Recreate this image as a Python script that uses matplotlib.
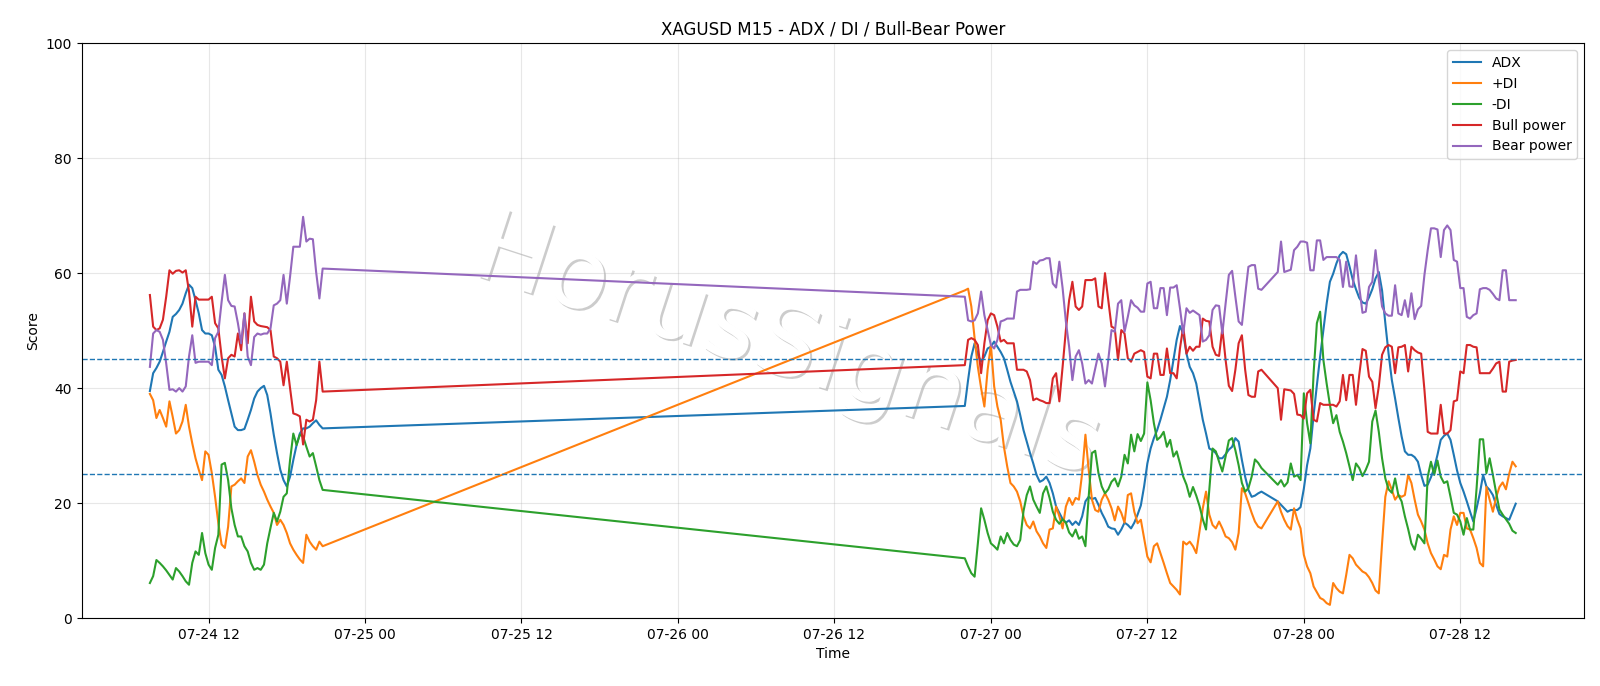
import pandas as pd
import matplotlib
matplotlib.use('Agg')
import matplotlib.pyplot as plt
import matplotlib.dates as mdates
import matplotlib.patheffects as pe

# three stretches of M15 bars (weekend gap + daily break)
t1 = pd.date_range('2025-07-24 07:30', periods=54, freq='15min')
t2 = pd.date_range('2025-07-26 22:00', periods=92, freq='15min')
t3 = pd.date_range('2025-07-27 22:00', periods=74, freq='15min')
times = t1.append(t2).append(t3)

adx = [
    39.5, 42.6, 43.5, 44.6, 46.3, 48.1, 49.8, 52.4, 52.9, 53.6, 54.7, 56.5, 58.0, 57.4, 55.3, 53.0, 50.1, 49.5,
    49.5, 49.2, 47.2, 43.2, 42.3, 40.3, 37.9, 35.6, 33.3, 32.7, 32.7, 32.9, 34.5, 36.2, 38.2, 39.4, 40.0, 40.4,
    38.8, 35.6, 31.9, 28.7, 25.8, 24.0, 22.9, 24.6, 27.5, 30.1, 32.1, 33.0, 33.0, 33.3, 33.9, 34.4, 33.6, 33.0,
    36.9, 41.4, 45.5, 47.8, 45.8, 44.6, 45.5, 46.9, 47.2, 48.1, 47.2, 46.3, 45.2, 43.2, 41.1, 39.4, 37.7, 35.3,
    32.7, 30.7, 28.7, 26.9, 24.9, 23.7, 24.0, 24.6, 23.5, 21.7,
    19.4, 18.3, 17.2, 16.6, 17.0, 16.2, 16.8, 16.2, 17.7, 20.3, 21.1, 20.7, 20.9, 19.7, 18.3, 17.2, 15.9, 15.6,
    15.5, 14.5, 15.4, 16.6, 16.2, 15.6, 16.6, 18.0, 19.6,
    22.9, 26.9, 29.5, 31.3, 32.7, 34.5, 36.5, 38.5, 41.4, 44.9, 48.4, 50.8, 49.5, 46.0, 43.7, 42.6, 40.8, 37.7,
    34.5, 32.1, 29.5, 29.2, 28.7, 27.8, 27.8, 28.5, 29.3, 29.8,
    31.3, 30.7, 27.5, 24.6, 22.3, 21.1, 21.3, 21.7, 22.0,
    20.3, 19.7, 19.1, 18.5, 18.8, 18.8, 18.8, 19.3, 22.5, 26.6, 29.5, 35.3, 40.5, 45.5,
    50.1, 54.7, 58.5, 59.9, 61.7, 63.1, 63.7, 63.3, 61.2, 58.9, 57.2, 55.7, 54.9, 54.7, 55.8, 57.2, 59.1, 60.2,
    57.0, 51.3, 46.0, 41.4, 38.2, 34.8, 31.6, 29.0, 28.4, 28.4,
    28.0, 27.2, 24.9, 23.0, 23.2, 24.5, 26.1, 28.4, 31.0, 31.7, 32.1, 31.0, 28.4, 25.7, 23.5, 22.0, 20.3, 18.5,
    16.8, 19.1, 21.7, 24.9, 22.9, 22.3, 21.4, 19.7, 18.1, 17.7, 17.4, 17.1, 18.5, 19.9,
]

plus_di = [
    39.0, 37.9, 34.8, 36.2, 34.8, 33.3, 37.7, 35.0, 32.1, 32.7, 34.2, 37.1, 33.3, 30.4, 27.8, 25.8, 24.0, 29.0,
    28.4, 25.2, 21.1, 16.5, 12.8, 12.2, 15.9, 22.9, 23.2, 23.8, 24.3, 23.5, 28.1, 29.2, 27.2, 24.9, 23.2, 22.0,
    20.6, 19.4, 18.3, 16.2, 17.1, 16.2, 14.8, 13.0, 11.9, 11.0, 10.2, 9.6, 14.5, 13.3, 12.5, 11.9, 13.3, 12.5,
    57.0, 57.3, 54.2, 48.7, 43.7, 40.0, 36.8, 43.2, 47.5, 40.3, 36.8, 34.5, 29.8, 26.4, 23.5, 22.9, 22.0, 20.3,
    17.7, 16.2, 15.6, 16.8, 15.1, 14.2, 13.0, 12.2, 15.4, 15.6,
    19.4, 17.7, 15.6, 19.4, 20.9, 19.7, 20.9, 20.6, 25.2, 31.9, 25.8, 20.6, 18.8, 18.5, 20.6, 21.7, 20.6, 19.1,
    17.0, 19.4, 18.3, 16.6, 21.4, 21.7, 18.5, 16.5, 17.1,
    13.9, 10.7, 9.7, 12.5, 13.0, 11.3, 9.6, 7.8, 6.1, 5.5, 4.9, 4.1, 13.3, 12.8, 13.3, 12.5, 11.3, 15.1,
    19.1, 22.0, 18.0, 16.2, 15.6, 16.8, 15.6, 14.2, 13.9, 13.2,
    11.9, 14.8, 22.6, 21.7, 20.0, 18.3, 16.8, 15.9, 15.6,
    20.3, 18.5, 17.1, 16.0, 15.4, 19.1, 17.1, 15.6, 11.0, 9.0, 7.8, 5.5, 4.5, 3.5,
    3.2, 2.6, 2.3, 6.1, 5.2, 4.6, 4.3, 7.5, 11.0, 10.4, 9.3, 8.7, 8.1, 7.8, 7.1, 6.1, 4.8, 4.3,
    13.0, 21.1, 23.8, 22.3, 20.6, 21.4, 21.1, 21.4, 24.9, 23.5,
    20.6, 18.0, 16.8, 15.4, 13.0, 11.3, 10.2, 9.0, 8.5, 11.0, 10.7, 15.4, 17.7, 16.2, 18.3, 18.3, 15.6, 15.4,
    13.9, 12.2, 9.6, 9.0, 22.8, 20.6, 18.5, 21.0, 22.8, 23.6, 22.4, 25.1, 27.2, 26.4,
]

minus_di = [
    6.1, 7.3, 10.1, 9.6, 9.0, 8.3, 7.5, 6.7, 8.7, 8.1, 7.3, 6.4, 5.8, 9.6, 11.6, 11.0, 14.8, 11.3,
    9.3, 8.4, 12.2, 14.5, 26.7, 27.0, 24.0, 19.1, 16.2, 14.2, 14.2, 12.5, 11.6, 9.6, 8.4, 8.7, 8.4, 9.3,
    13.0, 15.7, 18.3, 16.8, 18.5, 21.1, 21.7, 27.5, 32.1, 30.1, 31.9, 31.6, 29.8, 28.1, 28.7, 26.4, 24.0, 22.3,
    10.4, 9.0, 7.8, 7.2, 13.0, 19.1, 17.1, 14.8, 13.0, 12.5, 11.9, 14.2, 13.0, 14.8, 13.6, 12.8, 12.5, 13.6,
    18.6, 21.4, 22.9, 20.6, 19.4, 18.3, 21.7, 22.9, 20.9, 18.5,
    17.1, 16.4, 17.2, 16.6, 14.9, 14.2, 15.4, 13.8, 14.2, 12.5, 21.1, 28.7, 29.1, 25.2, 22.9, 21.7, 22.4, 23.7,
    24.3, 22.9, 24.6, 28.4, 26.9, 31.9, 29.0, 32.0, 30.8,
    32.1, 41.0, 37.9, 33.9, 31.0, 31.5, 32.4, 29.8, 31.0, 28.1, 29.0, 26.9, 24.6, 23.2, 21.1, 22.8, 21.3, 19.5,
    17.2, 15.4, 22.3, 29.5, 29.0, 27.2, 25.5, 28.1, 30.9, 31.3,
    29.2, 26.6, 23.5, 22.0, 22.6, 24.6, 27.6, 27.0, 26.1,
    23.2, 24.0, 22.9, 23.6, 26.9, 24.6, 24.9, 24.0, 39.1, 33.9, 30.4, 42.6, 51.3, 53.3,
    44.9, 40.8, 37.1, 33.9, 35.3, 32.4, 30.7, 28.7, 26.4, 24.0, 26.9, 26.1, 24.7, 25.8, 27.2, 34.2, 36.1, 32.4,
    27.8, 24.3, 22.4, 21.8, 24.3, 21.4, 20.3, 17.7, 15.5, 13.0,
    11.9, 14.5, 13.8, 13.0, 24.6, 27.2, 24.9, 27.4, 24.6, 23.5, 23.8, 21.1, 18.3, 18.0, 16.8, 14.5, 17.4, 15.4,
    15.4, 22.6, 31.1, 31.1, 25.2, 27.8, 24.9, 21.8, 18.9, 18.0, 17.2, 16.4, 15.2, 14.8,
]

bull = [
    56.2, 50.7, 50.1, 50.4, 51.9, 55.9, 60.5, 59.9, 60.4, 60.5, 60.1, 60.5, 56.8, 50.7, 55.9, 55.4, 55.4, 55.4,
    55.4, 55.9, 51.3, 50.4, 45.5, 41.7, 45.2, 45.8, 45.5, 49.5, 46.6, 53.0, 47.8, 55.9, 51.6, 51.0, 50.8, 50.7,
    50.6, 50.1, 45.5, 45.2, 44.6, 40.5, 44.6, 40.0, 35.6, 35.4, 35.1, 30.2, 34.5, 34.2, 34.5, 37.9, 44.6, 39.4,
    44.0, 48.4, 48.7, 48.4, 47.5, 42.6, 47.8, 51.8, 53.0, 52.7, 50.7, 48.1, 48.4, 47.8, 47.8, 47.8, 43.2, 43.2,
    43.2, 42.9, 41.4, 37.9, 38.2, 37.9, 37.7, 37.4, 37.4, 41.7,
    42.6, 37.7, 43.7, 50.1, 55.3, 58.5, 54.2, 53.6, 54.2, 58.8, 58.8, 58.8, 59.1, 54.2, 53.9, 60.0, 55.3, 50.7,
    50.4, 44.9, 50.1, 49.5, 45.2, 44.6, 46.0, 46.3, 46.6,
    46.3, 42.0, 41.7, 46.0, 46.0, 42.3, 42.3, 46.9, 42.6, 42.6, 41.7, 46.9, 50.7, 46.0, 47.2, 46.5, 47.2, 47.2,
    52.1, 51.7, 51.6, 47.2, 45.8, 45.6, 50.4, 44.9, 40.4, 39.5,
    43.2, 47.8, 49.2, 43.2, 38.8, 38.5, 38.5, 42.9, 43.2,
    40.0, 34.5, 39.8, 39.7, 39.6, 39.0, 35.4, 35.3, 34.7, 39.1, 39.7, 34.5, 34.2, 37.4,
    37.1, 37.1, 37.1, 37.1, 36.8, 37.7, 42.3, 37.9, 42.3, 42.3, 37.1, 42.3, 46.8, 46.5, 42.0, 41.1, 36.5, 40.3,
    45.8, 47.1, 47.5, 47.2, 42.6, 47.1, 47.2, 47.5, 42.9, 47.2,
    46.6, 46.2, 46.0, 39.7, 32.4, 32.1, 32.1, 32.1, 37.1, 32.1, 32.1, 32.7, 37.7, 37.9, 42.9, 42.6, 47.5, 47.5,
    47.2, 47.1, 42.6, 42.6, 42.6, 42.6, 43.4, 44.3, 44.6, 39.4, 39.4, 44.6, 44.8, 44.9,
]

bear = [
    43.7, 49.5, 50.1, 49.8, 48.4, 44.3, 39.7, 39.8, 39.4, 40.0, 39.4, 40.3, 45.5, 49.2, 44.4, 44.6, 44.6, 44.6,
    44.6, 44.0, 48.7, 49.8, 55.0, 59.7, 55.3, 54.3, 54.2, 51.3, 47.8, 53.0, 45.5, 44.0, 48.9, 49.5, 49.3, 49.5,
    49.5, 50.4, 54.4, 54.7, 55.3, 59.7, 54.7, 59.4, 64.6, 64.6, 64.6, 69.8, 65.5, 66.0, 65.9, 60.2, 55.6, 60.8,
    55.9, 51.8, 51.6, 51.8, 53.0, 56.8, 52.7, 50.1, 47.5, 46.9, 48.4, 51.6, 51.8, 52.1, 52.1, 52.1, 56.8, 57.1,
    57.1, 57.1, 57.2, 62.0, 61.6, 62.2, 62.3, 62.6, 62.6, 58.2,
    57.5, 62.0, 57.4, 51.6, 47.2, 41.4, 45.5, 46.6, 44.3, 40.8, 41.4, 40.8, 43.4, 46.0, 44.3, 40.3, 44.9, 50.1,
    49.8, 54.7, 55.3, 49.8, 52.4, 55.3, 54.4, 54.0, 53.3,
    53.3, 58.2, 58.5, 53.9, 53.9, 57.4, 57.4, 52.7, 57.5, 57.5, 57.9, 53.9, 49.5, 53.9, 53.1, 53.5, 53.1, 52.7,
    48.1, 48.4, 49.2, 53.6, 54.4, 54.3, 49.5, 54.7, 59.7, 60.4,
    55.9, 51.6, 51.0, 56.2, 61.1, 61.4, 61.4, 57.3, 57.1,
    60.2, 65.5, 60.2, 60.4, 60.6, 64.0, 64.6, 65.5, 65.5, 65.3, 60.5, 60.5, 65.7, 65.7,
    62.3, 62.8, 62.8, 62.8, 62.8, 62.3, 57.6, 62.0, 57.7, 57.6, 63.1, 57.6, 53.1, 53.3, 57.6, 58.5, 64.0, 58.8,
    54.2, 53.0, 52.6, 52.6, 57.9, 53.0, 52.7, 55.3, 52.4, 56.5,
    52.0, 53.7, 54.3, 59.7, 64.0, 67.8, 67.8, 67.6, 62.8, 67.5, 68.3, 67.5, 62.3, 62.0, 57.4, 57.4, 52.4, 52.1,
    52.7, 53.0, 57.2, 57.4, 57.4, 57.1, 56.4, 55.6, 55.3, 60.5, 60.5, 55.3, 55.3, 55.3,
]

fig, ax = plt.subplots(figsize=(16, 6.86), dpi=100)
fig.subplots_adjust(left=0.051, right=0.99, top=0.937, bottom=0.099)

ax.plot(times, adx, label='ADX')
ax.plot(times, plus_di, label='+DI')
ax.plot(times, minus_di, label='-DI')
ax.plot(times, bull, label='Bull power')
ax.plot(times, bear, label='Bear power')

ax.axhline(45, color='tab:blue', linestyle='--', linewidth=1)
ax.axhline(25, color='tab:blue', linestyle='--', linewidth=1)

# watermark: white glyphs with a soft grey drop shadow
ax.text(0.47, 0.47, 'HorusSignals', transform=ax.transAxes, fontsize=72,
        rotation=-18, ha='center', va='center', color='white', zorder=0.5,
        path_effects=[pe.withSimplePatchShadow(offset=(1.5, -1.5), shadow_rgbFace='gray', alpha=0.4)])

ax.set_ylim(0, 100)
ax.xaxis.set_major_locator(mdates.HourLocator(byhour=[0, 12]))
ax.xaxis.set_major_formatter(mdates.DateFormatter('%m-%d %H'))
ax.grid(True, alpha=0.3)
ax.set_title('XAGUSD M15 - ADX / DI / Bull-Bear Power')
ax.set_xlabel('Time')
ax.set_ylabel('Score')
ax.legend(loc='upper right')

plt.savefig('out.png')
